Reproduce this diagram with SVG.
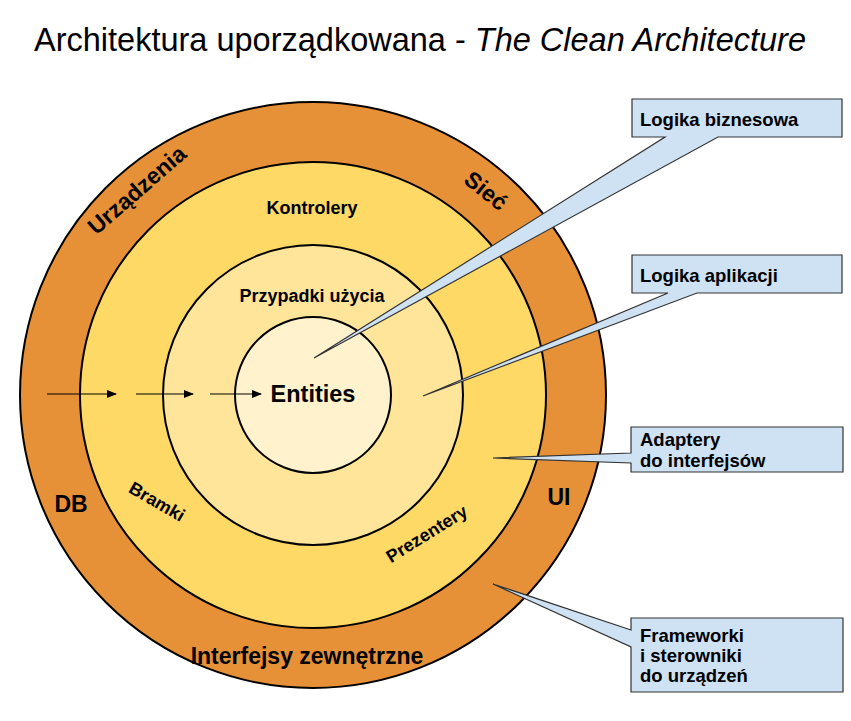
<svg xmlns="http://www.w3.org/2000/svg" width="851" height="721" viewBox="0 0 851 721">
<style>
text{font-family:"Liberation Sans",Arial,sans-serif;fill:#000}
.b{font-weight:bold}
.ring{stroke:#000;stroke-width:2}
.call{fill:#cfe2f3;stroke:#333;stroke-width:1.2;stroke-linejoin:miter}
.arr{stroke:#000;stroke-width:1.2;fill:none;marker-end:url(#ah)}
.lbl{font-size:18px;font-weight:bold}
.big{font-size:23px;font-weight:bold}
.ct{font-size:18.5px;font-weight:bold}
</style>
<defs>
<marker id="ah" markerWidth="10" markerHeight="8" refX="9" refY="4" orient="auto" markerUnits="userSpaceOnUse">
<path d="M0,0 L10,4 L0,8 Z" fill="#000"/>
</marker>
</defs>
<rect width="851" height="721" fill="#fff"/>
<text x="420" y="51" font-size="32.5" text-anchor="middle">Architektura uporządkowana - <tspan font-style="italic">The Clean Architecture</tspan></text>

<g id="ring-outer"><circle class="ring" cx="313" cy="395" r="293" fill="#e69138"/></g>
<g id="ring-adapters"><circle class="ring" cx="313" cy="395" r="233" fill="#ffd966"/></g>
<g id="ring-usecases"><circle class="ring" cx="313" cy="395" r="150" fill="#ffe599"/></g>
<g id="entities"><circle class="ring" cx="313" cy="395" r="78" fill="#fff2cc"/>
<text x="313" y="402" font-size="23.5" class="b" text-anchor="middle">Entities</text></g>

<g id="labels">
<text class="lbl" x="312" y="214" text-anchor="middle">Kontrolery</text>
<text class="lbl" x="312" y="302" text-anchor="middle">Przypadki użycia</text>
<text class="lbl" transform="translate(154,507) rotate(30)" text-anchor="middle">Bramki</text>
<text class="lbl" transform="translate(430,539) rotate(-32)" text-anchor="middle">Prezentery</text>
<text class="big" font-size="24" transform="translate(142,196) rotate(-41)" text-anchor="middle">Urządzenia</text>
<text class="big" font-size="24" transform="translate(481,197) rotate(39)" text-anchor="middle">Sieć</text>
<text class="big" x="71" y="512" text-anchor="middle">DB</text>
<text class="big" x="559" y="505" text-anchor="middle">UI</text>
<text class="big" x="307" y="664" font-size="24.5" text-anchor="middle">Interfejsy zewnętrzne</text>
</g>

<g id="connectors">
<line class="arr" x1="47" y1="394" x2="116" y2="394"/>
<line class="arr" x1="136" y1="394" x2="193" y2="394"/>
<line class="arr" x1="210" y1="394" x2="261" y2="394"/>
</g>

<g id="callout-biznes">
<path class="call" d="M632,99 H842 V137 H718 L314,358 L665,137 H632 Z"/>
<text class="ct" x="640" y="126">Logika biznesowa</text>
</g>
<g id="callout-aplikacji">
<path class="call" d="M632,255 H842 V293 H697 L423,396 L668,293 H632 Z"/>
<text class="ct" x="640" y="282">Logika aplikacji</text>
</g>
<g id="callout-adaptery">
<path class="call" d="M631,427 H843 V472 H631 V463 L493,458 L631,453 Z"/>
<text class="ct" x="640" y="446">Adaptery</text>
<text class="ct" x="640" y="467">do interfejsów</text>
</g>
<g id="callout-frameworki">
<path class="call" d="M631,618 H843 V692 H631 V647 L493,584 L631,630 Z"/>
<text class="ct" x="640" y="642">Frameworki</text>
<text class="ct" x="640" y="662">i sterowniki</text>
<text class="ct" x="640" y="682">do urządzeń</text>
</g>
</svg>
